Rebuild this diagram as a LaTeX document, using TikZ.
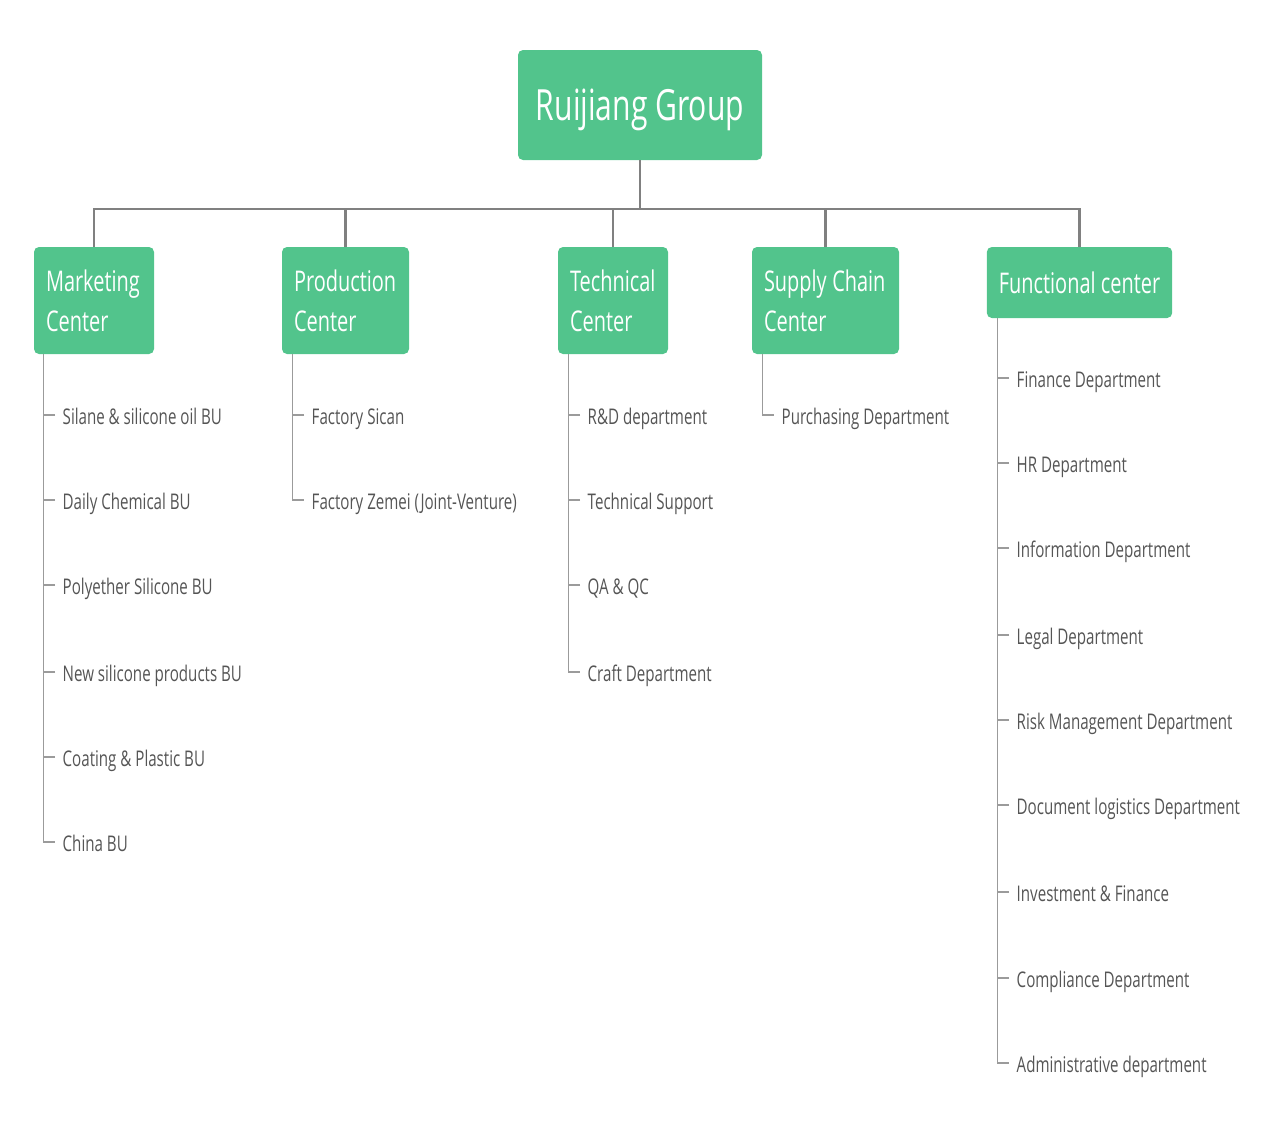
\documentclass[tikz,border=0pt]{standalone}
\usepackage{fontspec}
\setmainfont{Open Sans}[FakeStretch=0.7]
\definecolor{boxgreen}{RGB}{82,196,140}
\definecolor{leafgray}{RGB}{85,85,85}
\definecolor{busgray}{RGB}{128,128,128}
\definecolor{twiggray}{RGB}{155,155,155}
\tikzset{
  rootbox/.style={fill=boxgreen,rounded corners=5pt,text=white,text depth=0pt,
    font=\fontsize{43}{48}\selectfont},
  cbox/.style={fill=boxgreen,rounded corners=5pt,text=white,align=left,inner xsep=12pt,
    minimum height=107pt,font=\fontsize{28.5}{40}\selectfont},
  leaf/.style={anchor=west,inner xsep=7.5pt,text height=19pt,text depth=0pt,
    text=leafgray,font=\fontsize{21.6}{25}\selectfont},
  bus/.style={draw=busgray,line width=2.5pt},
  twig/.style={draw=twiggray,line width=1.3pt}
}
\begin{document}
\begin{tikzpicture}[x=1pt,y=-1pt]
\useasboundingbox (0,0) rectangle (1280,1135);
% top
\node[rootbox,minimum width=244pt,minimum height=110pt] (rg) at (640,105) {Ruijiang Group};
% centers
\node[cbox,text width=96pt] (mkt) at (94,300.5) {Marketing\\Center};
\node[cbox,text width=103pt] (pro) at (345.5,300.5) {Production\\Center};
\node[cbox,text width=86pt] (tec) at (613,300.5) {Technical\\Center};
\node[cbox,text width=123pt] (sup) at (825.5,300.5) {\mbox{Supply\hspace{-4pt} Chain}\\Center};
\node[cbox,align=center,minimum width=185pt,minimum height=71pt] (fun) at (1079.5,282.5) {Functional center};
% bus
\coordinate (bus) at (640,209);
\draw[bus] (rg.south) -- (rg.south |- bus);
\draw[bus] (mkt.north) |- (fun.north |- bus) -- (fun.north);
\draw[bus] (pro.north) -- (pro.north |- bus);
\draw[bus] (tec.north) -- (tec.north |- bus);
\draw[bus] (sup.north) -- (sup.north |- bus);
% marketing
\node[leaf] (m1) at (55,415) {Silane \& silicone oil BU};
\node[leaf] (m2) at (55,500) {Daily Chemical BU};
\node[leaf] (m3) at (55,585) {Polyether Silicone BU};
\node[leaf] (m4) at (55,672) {New silicone products BU};
\node[leaf] (m5) at (55,757) {Coating \& Plastic BU};
\node[leaf] (m6) at (55,842) {China BU};
\coordinate (ms) at ([xshift=10pt]mkt.south west);
\draw[twig] (ms) |- (m6.west);
\draw[twig] (m1.west) -- (m1.west -| ms);
\draw[twig] (m2.west) -- (m2.west -| ms);
\draw[twig] (m3.west) -- (m3.west -| ms);
\draw[twig] (m4.west) -- (m4.west -| ms);
\draw[twig] (m5.west) -- (m5.west -| ms);
% production
\node[leaf] (p1) at (304,415) {Factory Sican};
\node[leaf] (p2) at (304,500) {Factory Zemei (Joint-Venture)};
\coordinate (ps) at ([xshift=11pt]pro.south west);
\draw[twig] (ps) |- (p2.west);
\draw[twig] (p1.west) -- (p1.west -| ps);
% technical
\node[leaf] (t1) at (580,415) {R\&D department};
\node[leaf] (t2) at (580,500) {Technical Support};
\node[leaf] (t3) at (580,585) {QA \& QC};
\node[leaf] (t4) at (580,672) {Craft Department};
\coordinate (ts) at ([xshift=11pt]tec.south west);
\draw[twig] (ts) |- (t4.west);
\draw[twig] (t1.west) -- (t1.west -| ts);
\draw[twig] (t2.west) -- (t2.west -| ts);
\draw[twig] (t3.west) -- (t3.west -| ts);
% supply chain
\node[leaf] (s1) at (774,415) {Purchasing Department};
\coordinate (ss) at ([xshift=11pt]sup.south west);
\draw[twig] (ss) |- (s1.west);
% functional
\node[leaf] (f1) at (1009,378) {Finance Department};
\node[leaf] (f2) at (1009,463) {HR Department};
\node[leaf] (f3) at (1009,548) {Information Department};
\node[leaf] (f4) at (1009,635) {Legal Department};
\node[leaf] (f5) at (1009,720) {Risk Management Department};
\node[leaf] (f6) at (1009,805) {Document logistics Department};
\node[leaf] (f7) at (1009,892) {Investment \& Finance};
\node[leaf] (f8) at (1009,978) {Compliance Department};
\node[leaf] (f9) at (1009,1063) {Administrative department};
\coordinate (fs) at ([xshift=11pt]fun.south west);
\draw[twig] (fs) |- (f9.west);
\draw[twig] (f1.west) -- (f1.west -| fs);
\draw[twig] (f2.west) -- (f2.west -| fs);
\draw[twig] (f3.west) -- (f3.west -| fs);
\draw[twig] (f4.west) -- (f4.west -| fs);
\draw[twig] (f5.west) -- (f5.west -| fs);
\draw[twig] (f6.west) -- (f6.west -| fs);
\draw[twig] (f7.west) -- (f7.west -| fs);
\draw[twig] (f8.west) -- (f8.west -| fs);
\end{tikzpicture}
\end{document}
